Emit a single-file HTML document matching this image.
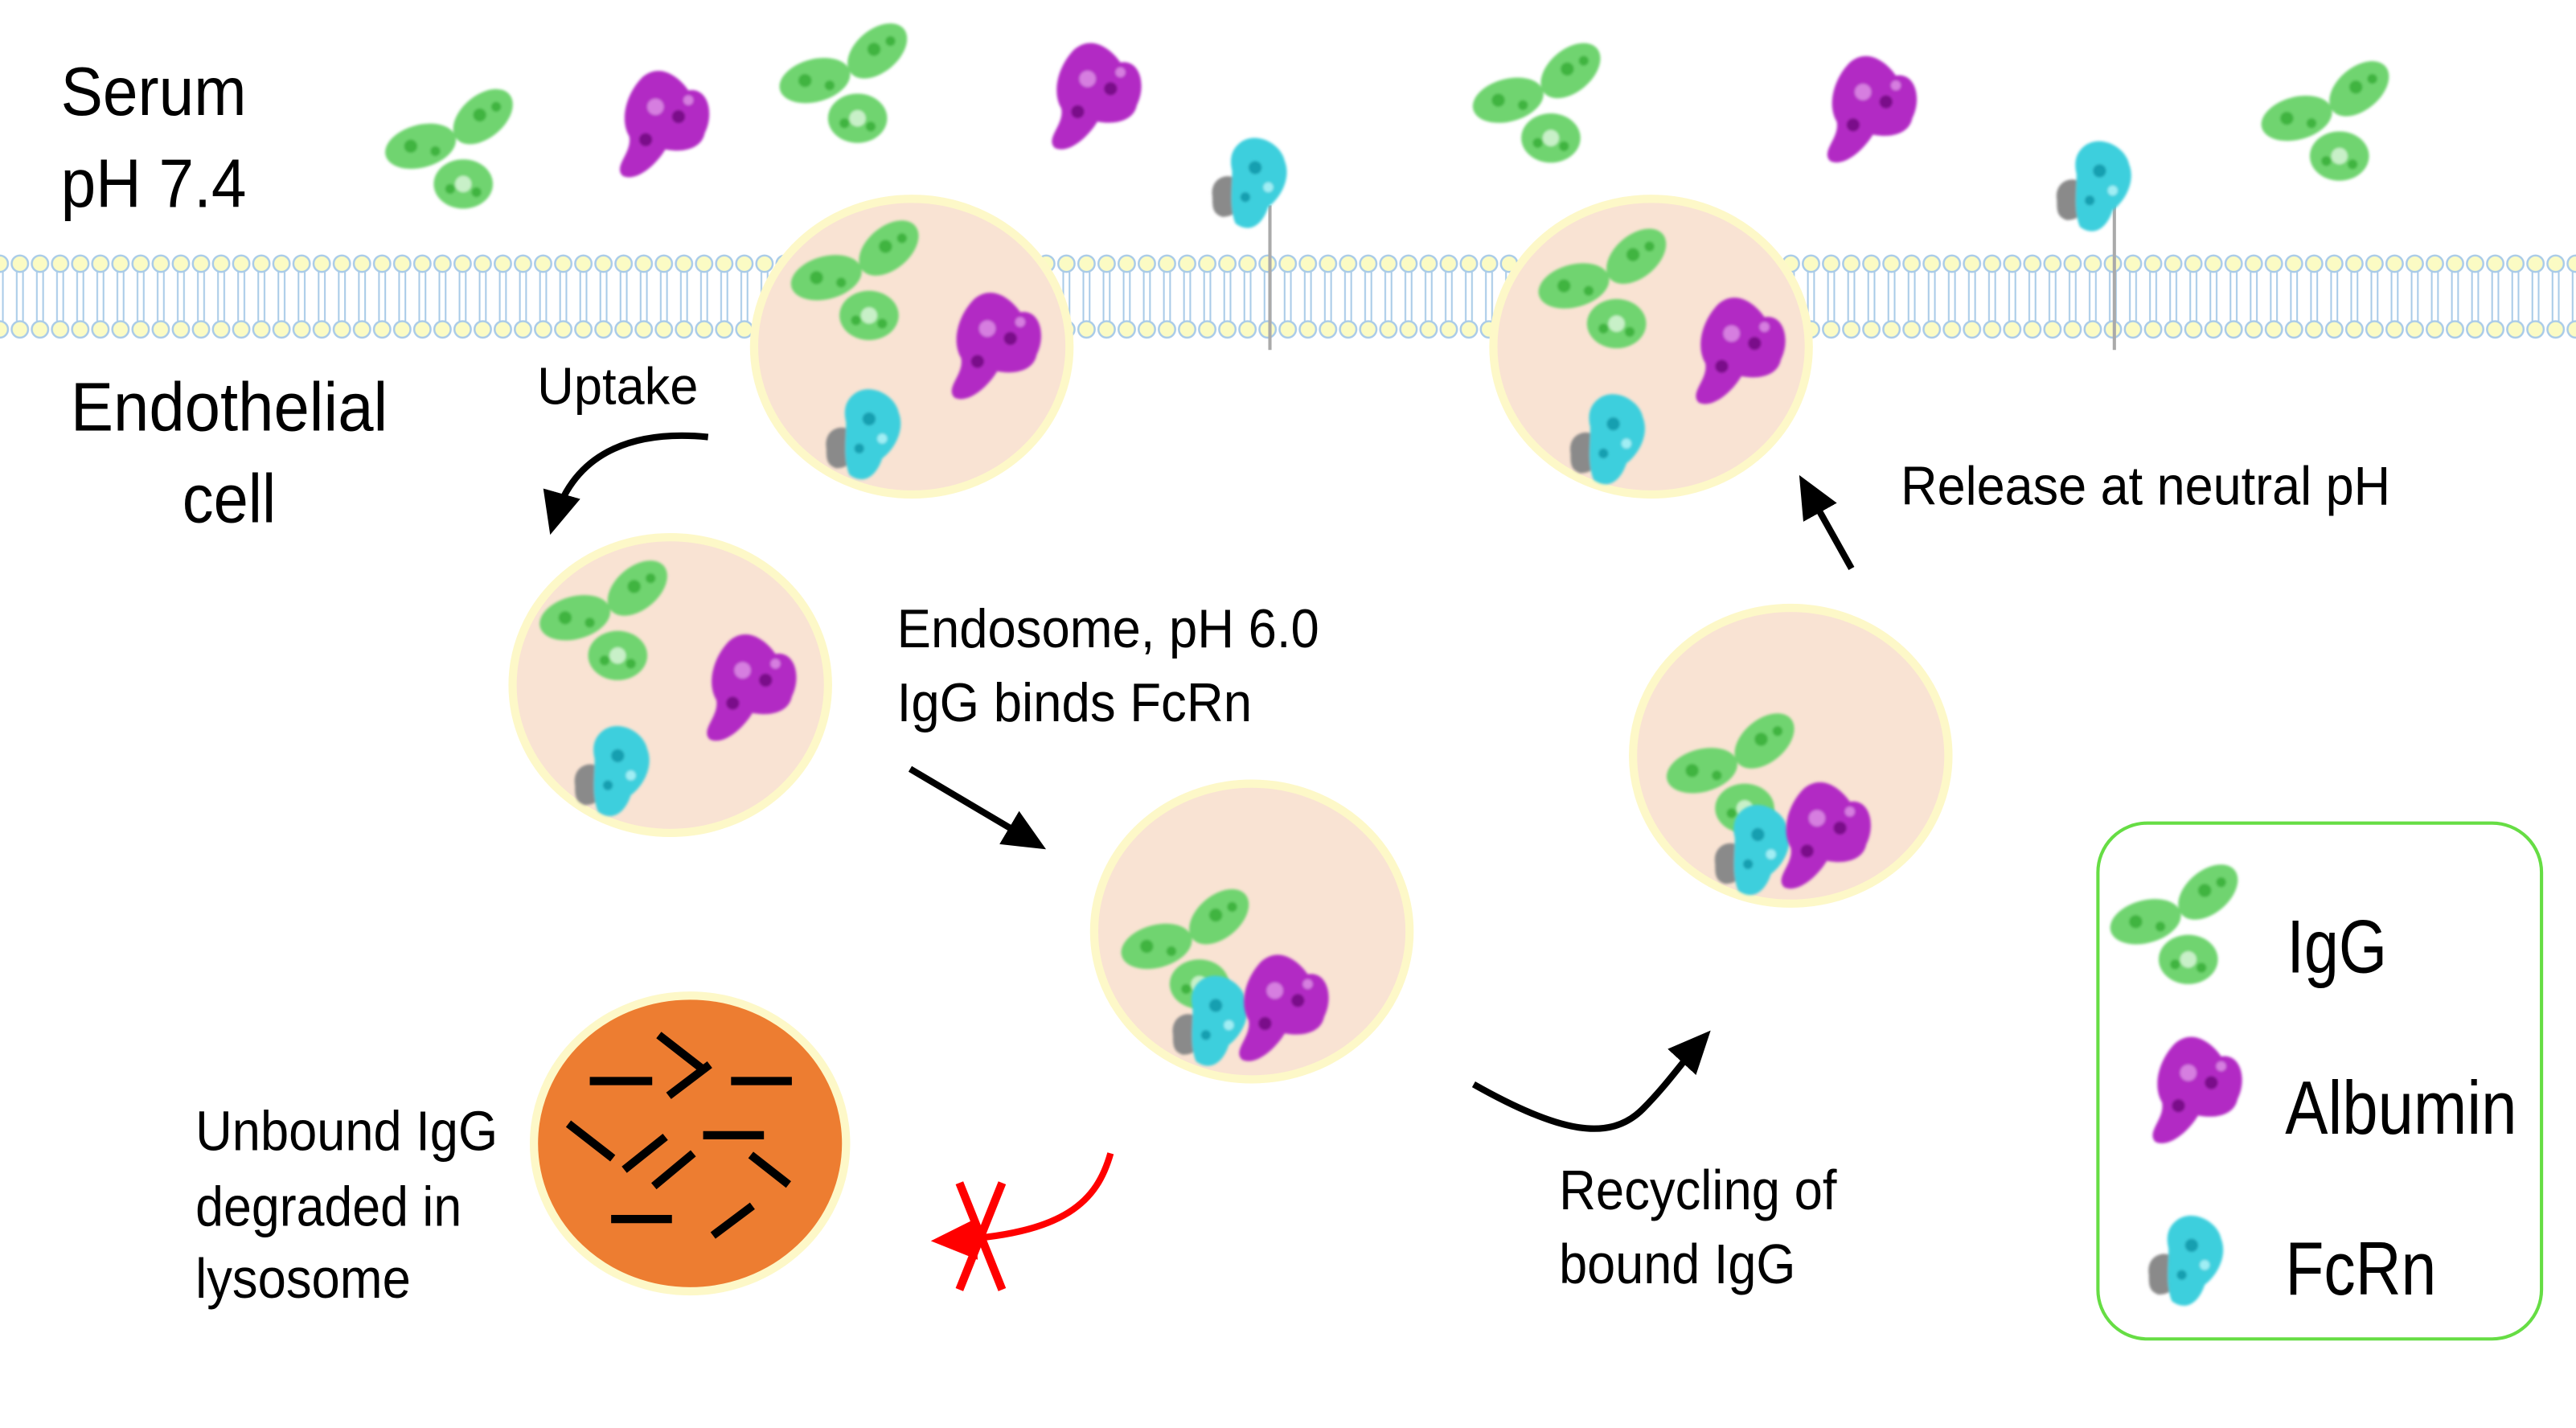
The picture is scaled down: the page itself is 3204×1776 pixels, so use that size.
<!DOCTYPE html>
<html><head><meta charset="utf-8"><style>
html,body{margin:0;padding:0;background:#fff;overflow:hidden}
svg{display:block}
text{font-family:"Liberation Sans",Arial,sans-serif;fill:#000}
</style></head><body>
<svg width="3204" height="1776" viewBox="0 0 1568 869.2" preserveAspectRatio="none" xmlns="http://www.w3.org/2000/svg">
<defs>
<pattern id="mem" x="6" y="0" width="12.25" height="869" patternUnits="userSpaceOnUse">
  <line x1="4.2" y1="160" x2="4.2" y2="200" stroke="#a9cbe8" stroke-width="1"/>
  <line x1="8" y1="160" x2="8" y2="200" stroke="#a9cbe8" stroke-width="1"/>
  <circle cx="6.1" cy="160.5" r="5" fill="#fbfbc4" stroke="#a9cbe8" stroke-width="1.2"/>
  <circle cx="6.1" cy="200.5" r="5" fill="#fbfbc4" stroke="#a9cbe8" stroke-width="1.2"/>
</pattern>
<filter id="soft"><feGaussianBlur stdDeviation="0.8"/></filter>
<g id="igg" filter="url(#soft)">
  <ellipse cx="-24" cy="-6" rx="22" ry="13" transform="rotate(-15 -24 -6)" fill="#6fd46f"/>
  <ellipse cx="14" cy="-24" rx="21" ry="13" transform="rotate(-40 14 -24)" fill="#6fd46f"/>
  <ellipse cx="2" cy="17" rx="18" ry="15" fill="#6fd46f"/>
  <circle cx="2" cy="17" r="5" fill="#c8f0c8"/>
  <circle cx="-30" cy="-6" r="4" fill="#3fb43f"/><circle cx="-15" cy="-3" r="3" fill="#3fb43f"/>
  <circle cx="12" cy="-25" r="4" fill="#3fb43f"/><circle cx="22" cy="-30" r="3" fill="#3fb43f"/>
  <circle cx="-6" cy="20" r="3" fill="#3fb43f"/><circle cx="10" cy="22" r="3" fill="#3fb43f"/>
</g>
<g id="alb" filter="url(#soft)">
  <path d="M-14,-30 C-2,-40 10,-28 14,-22 C26,-24 30,-8 24,4 C22,14 10,16 0,14 C-6,24 -18,34 -26,30 C-32,24 -20,16 -22,6 C-28,-4 -24,-20 -14,-30Z" fill="#b22cc4"/>
  <circle cx="-6" cy="-12" r="5" fill="#d67ee0"/><circle cx="8" cy="-6" r="4" fill="#7a0a8a"/>
  <circle cx="-12" cy="8" r="4" fill="#7a0a8a"/><circle cx="14" cy="-16" r="3" fill="#d67ee0"/>
</g>
<g id="fcr" filter="url(#soft)">
  <path d="M-24,8 C-26,-4 -14,-8 -8,-2 C-4,8 -6,20 -18,20 C-24,18 -24,14 -24,8Z" fill="#8a8a8a"/>
  <path d="M-6,-26 C4,-32 18,-24 20,-14 C24,-4 18,8 10,14 C6,26 -2,30 -10,24 C-14,14 -12,2 -12,-8 C-14,-16 -12,-22 -6,-26Z" fill="#3ccfdd"/>
  <circle cx="2" cy="-10" r="4" fill="#139fb0"/><circle cx="-4" cy="8" r="3" fill="#139fb0"/><circle cx="10" cy="2" r="3" fill="#a0eef4"/>
</g>
<marker id="ah" viewBox="0 0 10 10" refX="7" refY="5" markerWidth="6.5" markerHeight="6.5" orient="auto" markerUnits="strokeWidth"><path d="M0,0.5 L10,5 L0,9.5 Z" fill="#000"/></marker>
<marker id="ahr" viewBox="0 0 10 10" refX="7" refY="5" markerWidth="7" markerHeight="7" orient="auto" markerUnits="strokeWidth"><path d="M0,0.5 L10,5 L0,9.5 Z" fill="#f00"/></marker>
</defs>

<rect x="0" y="150" width="1568" height="60" fill="url(#mem)"/>

<line x1="773" y1="125" x2="773" y2="213" stroke="#aaa" stroke-width="2"/>
<line x1="1287" y1="125" x2="1287" y2="213" stroke="#aaa" stroke-width="2"/>

<g fill="#f9e3d3" stroke="#fdf8c8" stroke-width="5">
<ellipse cx="555" cy="211" rx="96" ry="90"/>
<ellipse cx="1005" cy="211" rx="96" ry="90"/>
<ellipse cx="408" cy="417" rx="96" ry="90"/>
<ellipse cx="762" cy="567" rx="96" ry="90"/>
<ellipse cx="1090" cy="460" rx="96" ry="90"/>
</g>
<ellipse cx="420" cy="696" rx="95" ry="90" fill="#ed7d31" stroke="#fdf8c8" stroke-width="5"/>
<g stroke="#000" stroke-width="5">
<line x1="359" y1="658" x2="397" y2="658"/>
<line x1="445" y1="658" x2="482" y2="658"/>
<line x1="401" y1="630" x2="428" y2="651"/>
<line x1="407" y1="667" x2="432" y2="648"/>
<line x1="346" y1="684" x2="373" y2="705"/>
<line x1="380" y1="712" x2="405" y2="692"/>
<line x1="428" y1="691" x2="465" y2="691"/>
<line x1="398" y1="722" x2="422" y2="702"/>
<line x1="457" y1="703" x2="480" y2="721"/>
<line x1="372" y1="742" x2="409" y2="742"/>
<line x1="434" y1="752" x2="458" y2="734"/>
</g>

<use href="#igg" x="280" y="95"/>
<use href="#alb" x="405" y="77"/>
<use href="#igg" x="520" y="55"/>
<use href="#alb" x="668" y="60"/>
<use href="#fcr" x="762" y="112"/>
<use href="#igg" x="942" y="67"/>
<use href="#alb" x="1140" y="68"/>
<use href="#fcr" x="1276" y="114"/>
<use href="#igg" x="1422" y="78"/>

<use href="#igg" x="527" y="175"/><use href="#alb" x="607" y="212"/><use href="#fcr" x="527" y="265"/>
<use href="#igg" x="982" y="180"/><use href="#alb" x="1060" y="215"/><use href="#fcr" x="980" y="268"/>
<use href="#igg" x="374" y="382"/><use href="#alb" x="458" y="420"/><use href="#fcr" x="374" y="470"/>
<use href="#igg" x="728" y="582"/><use href="#fcr" x="738" y="622"/><use href="#alb" x="782" y="615"/>
<use href="#igg" x="1060" y="475"/><use href="#fcr" x="1068" y="518"/><use href="#alb" x="1112" y="510"/>

<g fill="none" stroke="#000" stroke-width="4">
<path d="M431,266 C390,262 350,272 337,318" marker-end="url(#ah)"/>
<path d="M554,468 L630,513" marker-end="url(#ah)"/>
<path d="M897,660 C950,690 980,695 1000,675 C1015,660 1025,645 1036,633" marker-end="url(#ah)"/>
<path d="M1127,346 L1099,296" marker-end="url(#ah)"/>
</g>
<path d="M676,702 C668,730 650,752 575,755" fill="none" stroke="#f00" stroke-width="4" marker-end="url(#ahr)"/>
<g stroke="#f00" stroke-width="5"><line x1="584" y1="720" x2="610" y2="785"/><line x1="610" y1="720" x2="584" y2="785"/></g>

<rect x="1277" y="501" width="270" height="314" rx="30" fill="none" stroke="#66dd44" stroke-width="2"/>
<use href="#igg" x="1330" y="567"/>
<use href="#alb" x="1338" y="665"/>
<use href="#fcr" x="1332" y="768"/>

<g>
<text x="37" y="70" font-size="42" textLength="113" lengthAdjust="spacingAndGlyphs">Serum</text>
<text x="37" y="126" font-size="42" textLength="113" lengthAdjust="spacingAndGlyphs">pH 7.4</text>
<text x="43" y="262" font-size="42" textLength="193" lengthAdjust="spacingAndGlyphs">Endothelial</text>
<text x="111" y="318" font-size="42" textLength="57" lengthAdjust="spacingAndGlyphs">cell</text>
<text x="327" y="246" font-size="32" textLength="98" lengthAdjust="spacingAndGlyphs">Uptake</text>
<text x="546" y="394" font-size="33" textLength="257" lengthAdjust="spacingAndGlyphs">Endosome, pH 6.0</text>
<text x="546" y="439" font-size="33" textLength="216" lengthAdjust="spacingAndGlyphs">IgG binds FcRn</text>
<text x="1157" y="307" font-size="33" textLength="298" lengthAdjust="spacingAndGlyphs">Release at neutral pH</text>
<text x="119" y="700" font-size="34" textLength="184" lengthAdjust="spacingAndGlyphs">Unbound IgG</text>
<text x="119" y="746" font-size="34" textLength="162" lengthAdjust="spacingAndGlyphs">degraded in</text>
<text x="119" y="790" font-size="34" textLength="131" lengthAdjust="spacingAndGlyphs">lysosome</text>
<text x="949" y="736" font-size="34" textLength="169" lengthAdjust="spacingAndGlyphs">Recycling of</text>
<text x="949" y="781" font-size="34" textLength="144" lengthAdjust="spacingAndGlyphs">bound IgG</text>
<text x="1392" y="592" font-size="46" textLength="61" lengthAdjust="spacingAndGlyphs">IgG</text>
<text x="1391" y="690" font-size="46" textLength="141" lengthAdjust="spacingAndGlyphs">Albumin</text>
<text x="1391" y="788" font-size="46" textLength="92" lengthAdjust="spacingAndGlyphs">FcRn</text>
</g>
</svg>
</body></html>
